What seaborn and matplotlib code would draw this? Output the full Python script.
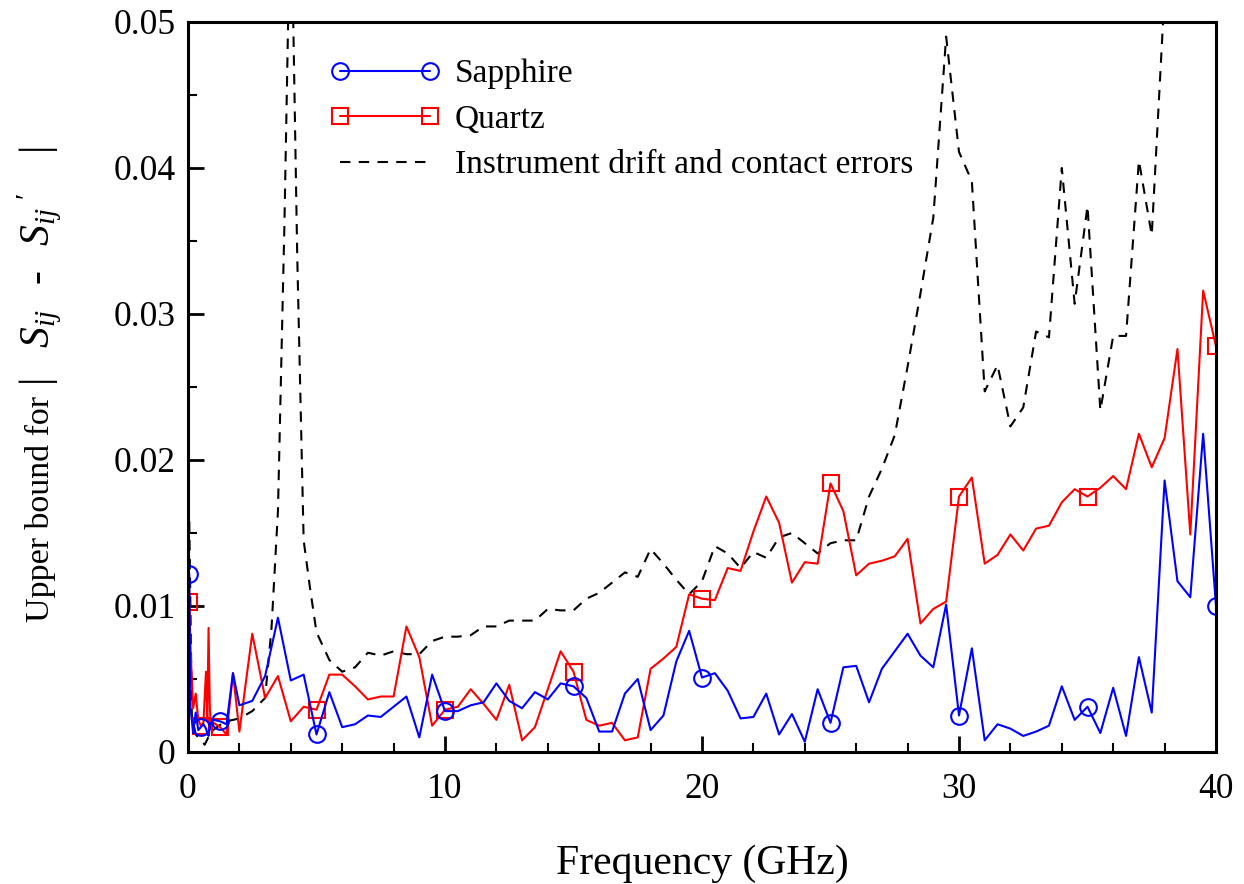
import matplotlib
matplotlib.use("Agg")
import matplotlib.pyplot as plt
import seaborn as sns
from matplotlib.lines import Line2D
from matplotlib.ticker import MultipleLocator, FixedLocator, FuncFormatter

# ---------------- data ----------------
freq = [0.05, 0.1, 0.2, 0.3, 0.4, 0.5, 0.6, 0.7, 0.75, 0.8, 0.85, 0.9, 1.0, 1.25, 1.5, 1.75,
        2.0, 2.5, 3.0, 3.5, 4.0, 4.5, 5.0, 5.5, 6.0, 6.5, 7.0, 7.5, 8.0, 8.5, 9.0, 9.5,
        10.0, 10.5, 11.0, 11.5, 12.0, 12.5, 13.0, 13.5, 14.0, 14.5, 15.0, 15.5, 16.0, 16.5,
        17.0, 17.5, 18.0, 18.5, 19.0, 19.5, 20.0, 20.5, 21.0, 21.5, 22.0, 22.5, 23.0, 23.5,
        24.0, 24.5, 25.0, 25.5, 26.0, 26.5, 27.0, 27.5, 28.0, 28.5, 29.0, 29.5, 30.0, 30.5,
        31.0, 31.5, 32.0, 32.5, 33.0, 33.5, 34.0, 34.5, 35.0, 35.5, 36.0, 36.5, 37.0, 37.5,
        38.0, 38.5, 39.0, 39.5, 40.0]

sapphire = [0.0122, 0.0030, 0.0013, 0.0027, 0.0015, 0.0017, 0.0019, 0.0016, 0.0013, 0.0011,
            0.0018, 0.0020, 0.0022, 0.0021, 0.0019, 0.0054,
            0.0032, 0.0035, 0.0052, 0.0092, 0.0049, 0.0053, 0.0012, 0.0041, 0.0017, 0.0019,
            0.0025, 0.0024, 0.0031, 0.0038, 0.0010, 0.0053, 0.0028, 0.0028, 0.0032, 0.0034,
            0.0047, 0.0035, 0.0030, 0.0041, 0.0036, 0.0047, 0.0045, 0.0037, 0.0014, 0.0014,
            0.0040, 0.0050, 0.0015, 0.0025, 0.0062, 0.0083, 0.0051, 0.0054, 0.0042, 0.0023,
            0.0024, 0.0040, 0.0012, 0.0026, 0.0007, 0.0043, 0.0020, 0.0058, 0.0059, 0.0034,
            0.0057, 0.0069, 0.0081, 0.0066, 0.0058, 0.0101, 0.0025, 0.0071, 0.0008, 0.0019,
            0.0016, 0.0011, 0.0014, 0.0018, 0.0045, 0.0022, 0.0031, 0.0013, 0.0044, 0.0011,
            0.0065, 0.0027, 0.0186, 0.0117, 0.0106, 0.0218, 0.0100]

quartz = [0.0103, 0.0070, 0.0030, 0.0040, 0.0022, 0.0018, 0.0020, 0.0055, 0.0022, 0.0085,
          0.0030, 0.0016, 0.0020, 0.0017, 0.0012, 0.0054,
          0.0014, 0.0081, 0.0037, 0.0052, 0.0021, 0.0031, 0.0029, 0.0053, 0.0053, 0.0045,
          0.0036, 0.0038, 0.0038, 0.0086, 0.0065, 0.0018, 0.0029, 0.0031, 0.0043, 0.0033,
          0.0022, 0.0046, 0.0008, 0.0017, 0.0043, 0.0069, 0.0055, 0.0022, 0.0018, 0.0020,
          0.0008, 0.0010, 0.0057, 0.0064, 0.0072, 0.0108, 0.0105, 0.0104, 0.0126, 0.0124,
          0.0151, 0.0175, 0.0157, 0.0116, 0.0130, 0.0129, 0.0184, 0.0165, 0.0121, 0.0129,
          0.0131, 0.0134, 0.0146, 0.0088, 0.0098, 0.0103, 0.0175, 0.0188, 0.0129, 0.0135,
          0.0149, 0.0138, 0.0153, 0.0155, 0.0171, 0.0180, 0.0175, 0.0181, 0.0189, 0.0180,
          0.0218, 0.0195, 0.0215, 0.0276, 0.0149, 0.0316, 0.0278]

drift_freq = [0.05, 0.15, 0.3, 0.5, 0.65, 0.9, 1.2, 1.5, 2.0, 2.5, 3.0, 3.25, 3.5, 3.75, 4.0,
              4.25, 4.5, 4.75, 5.0, 5.5, 6.0, 6.5, 7.0, 7.5, 8.0, 8.5, 9.0, 9.5, 10.0, 10.5,
              11.0, 11.5, 12.0, 12.5, 13.0, 13.5, 14.0, 14.5, 15.0, 15.5, 16.0, 16.5, 17.0,
              17.5, 18.0, 18.5, 19.0, 19.5, 20.0, 20.5, 21.0, 21.5, 22.0, 22.5, 23.0, 23.5,
              24.0, 24.5, 25.0, 25.5, 26.0, 26.5, 27.0, 27.5, 28.0, 28.5, 29.0, 29.5, 30.0,
              30.5, 31.0, 31.5, 32.0, 32.5, 33.0, 33.5, 34.0, 34.5, 35.0, 35.5, 36.0, 36.5,
              37.0, 37.5, 38.0, 38.5, 39.0, 39.5, 40.0]
drift = [0.0158, 0.0025, 0.0012, 0.0008, 0.0005, 0.0014, 0.0018, 0.0021, 0.0023, 0.0028,
         0.0037, 0.0085, 0.0165, 0.0360, 0.0600, 0.0340, 0.0145, 0.0112, 0.0082, 0.0063,
         0.0055, 0.0058, 0.0068, 0.0066, 0.0069, 0.0067, 0.0067, 0.0076, 0.0079, 0.0079,
         0.0080, 0.0086, 0.0086, 0.0090, 0.0090, 0.0090, 0.0098, 0.0097, 0.0097, 0.0105,
         0.0109, 0.0116, 0.0123, 0.0120, 0.0139, 0.0129, 0.0118, 0.0108, 0.0117, 0.0141,
         0.0136, 0.0126, 0.0137, 0.0133, 0.0147, 0.0150, 0.0143, 0.0136, 0.0143, 0.0145,
         0.0145, 0.0175, 0.0194, 0.0217, 0.0264, 0.0314, 0.0366, 0.0490, 0.0411, 0.0391,
         0.0247, 0.0265, 0.0223, 0.0236, 0.0288, 0.0284, 0.0400, 0.0307, 0.0374, 0.0234,
         0.0285, 0.0285, 0.0405, 0.0354, 0.0520, 0.0700, 0.0800, 0.0750, 0.0800]

marker_freqs = [0.05, 0.5, 1.25, 5.0, 10.0, 15.0, 20.0, 25.0, 30.0, 35.0, 40.0]
labels = ["Sapphire", "Quartz", "Instrument drift and contact errors"]
x_ticks = [0, 10, 20, 30, 40]
y_ticks = [0, 0.01, 0.02, 0.03, 0.04, 0.05]
ylabel_text = "Upper bound for"
ylabel_math = r"$|\quad S_{ij}\;\;\;$-$\;\;\;S_{ij}\;{}^{\prime}\quad\;|$"

# ---------------- style ----------------
sns.set_style("ticks")
plt.rcParams['font.family'] = ['Liberation Serif', 'DejaVu Serif']
plt.rcParams['mathtext.fontset'] = 'custom'
plt.rcParams['mathtext.rm'] = 'Liberation Serif'
plt.rcParams['mathtext.it'] = 'Liberation Serif:italic'
for k in ['text.color', 'axes.labelcolor', 'xtick.color', 'ytick.color', 'axes.edgecolor']:
    plt.rcParams[k] = 'black'

BLUE = '#0000FF'
RED = '#FF0000'

fig = plt.figure(figsize=(12.44, 8.84), dpi=100)
ax = fig.add_axes([188 / 1244, 132 / 884, 1028 / 1244, 730 / 884])

mark_idx = [freq.index(f) for f in marker_freqs]

sns.lineplot(x=drift_freq, y=drift, ax=ax, color='black', lw=1.5,
             linestyle=(0, (5, 4)), estimator=None, sort=False, legend=False)
sns.lineplot(x=freq, y=quartz, ax=ax, color=RED, lw=1.5, marker='s', markersize=12,
             markerfacecolor='none', markeredgecolor=RED, markeredgewidth=1.5,
             markevery=mark_idx, estimator=None, sort=False, legend=False)
sns.lineplot(x=freq, y=sapphire, ax=ax, color=BLUE, lw=1.5, marker='o', markersize=12,
             markerfacecolor='none', markeredgecolor=BLUE, markeredgewidth=1.5,
             markevery=mark_idx, estimator=None, sort=False, legend=False)

ax.set_xlim(0, 40)
ax.set_ylim(0, 0.05)
ax.xaxis.set_major_locator(FixedLocator(x_ticks))
ax.xaxis.set_minor_locator(MultipleLocator(2))
ax.yaxis.set_major_locator(FixedLocator(y_ticks))
ax.yaxis.set_minor_locator(MultipleLocator(0.005))
ax.yaxis.set_major_formatter(FuncFormatter(lambda v, p: "0" if abs(v) < 1e-12 else f"{v:.2f}"))
ax.xaxis.set_major_formatter(FuncFormatter(lambda v, p: f"{int(round(v))}"))

ax.tick_params(axis='both', which='major', direction='in', length=11.5, width=2,
               labelsize=25.5, top=False, right=False, color='black', labelcolor='black')
ax.tick_params(axis='both', which='minor', direction='in', length=6.5, width=1.5,
               top=False, right=False, color='black')
ax.tick_params(axis='x', which='major', pad=15)
ax.tick_params(axis='y', which='major', pad=9)
for s in ax.spines.values():
    s.set_linewidth(2.2)
    s.set_color('black')
    s.set_visible(True)

ax.set_xlabel("Frequency (GHz)", fontsize=30, labelpad=28)
ax.set_ylabel("")
# y label: plain words, then the larger |S_ij - S_ij'| expression above them
fig.text(40 / 1244, (884 - 622) / 884, ylabel_text, rotation=90, fontsize=24.5,
         ha='center', va='bottom')
fig.text(40 / 1244, (884 - 386) / 884, ylabel_math, rotation=90, fontsize=30,
         ha='center', va='bottom')

handles = [
    Line2D([], [], color=BLUE, lw=1.5, marker='o', markersize=12, markerfacecolor='none',
           markeredgecolor=BLUE, markeredgewidth=1.5),
    Line2D([], [], color=RED, lw=1.5, marker='s', markersize=12, markerfacecolor='none',
           markeredgecolor=RED, markeredgewidth=1.5),
    Line2D([], [], color='black', lw=1.5, linestyle=(0, (5, 4))),
]
leg = ax.legend(handles, labels, loc='upper left', bbox_to_anchor=(0.125, 0.968),
                frameon=False, fontsize=24, numpoints=2, handlelength=3.3,
                handletextpad=0.45, labelspacing=0.45, borderaxespad=0)

fig.savefig("out.png", dpi=100)
